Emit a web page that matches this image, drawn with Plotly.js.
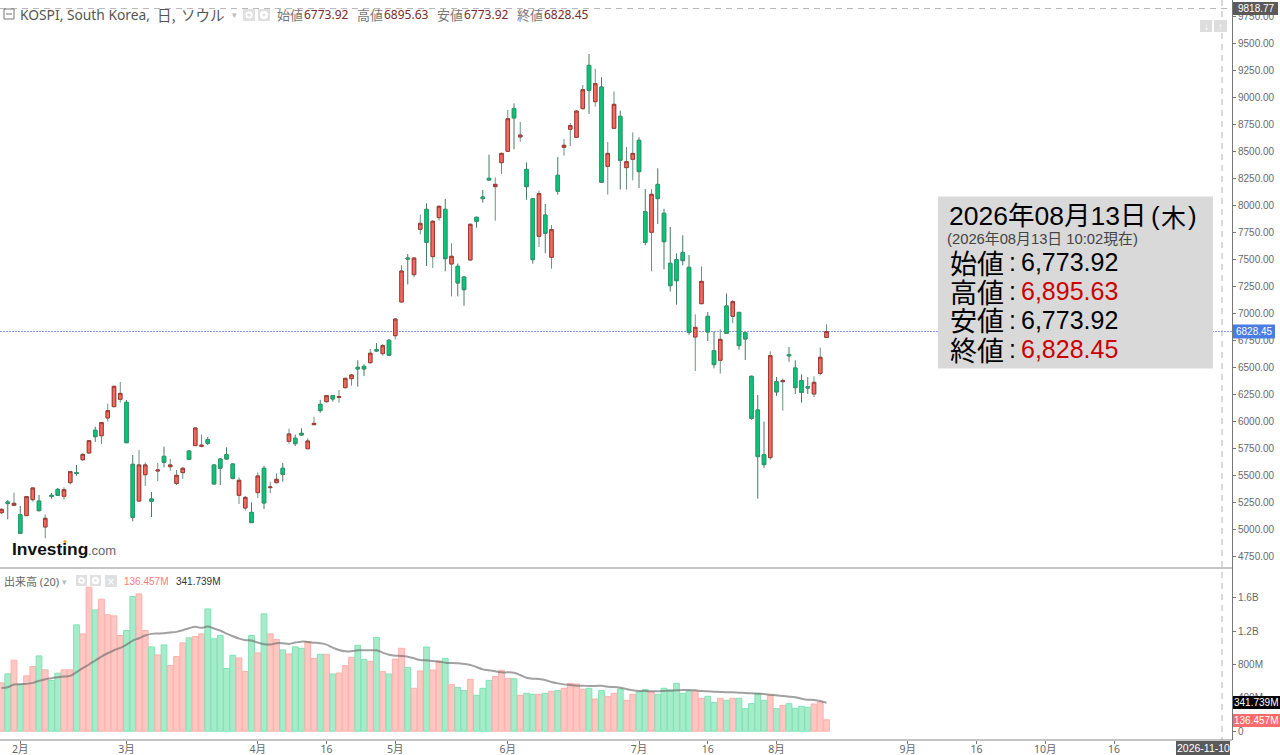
<!DOCTYPE html>
<html><head><meta charset="utf-8">
<script src="https://cdn.plot.ly/plotly-3.0.1.min.js"></script>
<style>html,body{margin:0;padding:0;background:#fff}#c{width:1280px;height:755px}</style>
</head><body><div id="c"></div>
<script>
const opens=[5151,5250,5219,5133,5124,5272,5259,5019,5312,5367,5303,5429,5522,5642,5704,5914,5864,6028,6133,6201,6173,5599,5259,5503,5278,5537,5673,5577,5423,5522,5722,5772,5766,5827,5593,5648,5688,5602,5312,5195,5154,5337,5562,5383,5429,5562,5812,5840,5886,5744,5966,6154,6179,6235,6219,6309,6392,6497,6506,6540,6661,6624,6747,6790,7102,7509,7355,7775,7960,7522,7883,7960,7454,7432,7333,7491,7886,8074,8247,8170,8392,8497,8892,8630,8330,8059,7710,7907,7516,8275,8534,8701,8627,8892,9293,8957,9093,8358,8710,8821,8346,8423,8599,7938,7747,8191,7923,7460,7494,7559,7423,6778,7086,6969,6651,6562,7065,6969,7006,6818,6414,6102,5688,5661,6364,6364,6614,6491,6374,6318,6250,6441,6773.92];
const highs=[5191,5269,5337,5213,5306,5386,5315,5136,5333,5380,5386,5537,5593,5701,5824,5948,5991,6161,6327,6361,6195,5685,5732,5617,5343,5611,5762,5648,5546,5574,5732,5941,5874,5852,5596,5654,5756,5608,5479,5306,5247,5525,5586,5438,5515,5611,5929,5874,5932,5840,6040,6195,6241,6241,6287,6401,6435,6562,6525,6667,6722,6713,6759,6951,7441,7546,7515,7910,8015,7861,7997,8056,7645,7457,7340,7830,7892,8139,8466,8256,8485,8880,8941,8769,8395,8065,8133,8009,7815,8444,8611,8759,8877,9111,9398,9262,9182,8583,9052,8873,8537,8673,8627,8148,8148,8340,7966,7796,7552,7719,7537,6988,7432,7009,6830,6849,7179,7120,7009,6824,6420,6241,5994,6645,6407,6395,6685,6562,6432,6407,6414,6679,6895.63];
const lows=[5139,5090,5213,4954,5120,5253,5161,4914,5281,5306,5275,5414,5494,5630,5698,5806,5787,5994,6127,6170,5796,5071,5253,5398,5111,5444,5571,5540,5407,5463,5639,5769,5756,5778,5414,5407,5642,5460,5232,5170,5056,5287,5185,5333,5423,5438,5790,5769,5864,5738,5960,6077,6170,6179,6170,6302,6327,6318,6417,6534,6642,6605,6605,6756,7099,7265,7330,7728,7435,7417,7855,7386,7154,7154,7068,7488,7790,8022,8228,7855,8287,8494,8516,8586,8049,7457,7611,7553,7411,8096,8457,8546,8620,8886,8843,8911,8207,8096,8707,8142,8142,8228,8157,7627,7386,7824,7404,7198,7077,7441,6799,6463,7083,6741,6488,6438,6809,6907,6661,6565,6012,5281,5565,5642,6232,6096,6549,6250,6170,6250,6222,6423,6773.92];
const closes=[5182,5235,5238,4960,5300,5380,5170,5099,5303,5312,5364,5531,5515,5691,5818,5855,5985,6096,6321,6256,5799,5108,5593,5593,5256,5546,5617,5593,5497,5562,5645,5935,5775,5793,5417,5562,5648,5469,5451,5293,5059,5491,5241,5389,5460,5506,5880,5790,5870,5815,5978,6096,6235,6204,6225,6395,6426,6482,6482,6627,6648,6698,6608,6944,7389,7500,7509,7830,7654,7849,7988,7503,7525,7278,7216,7821,7849,8059,8231,8191,8478,8799,8806,8648,8170,7494,8105,7738,7772,8127,8553,8735,8870,9068,9062,9124,8210,8478,8932,8414,8401,8478,8309,7654,8099,8059,7660,7253,7299,7485,6821,6867,7293,6824,6522,6756,6812,7105,6698,6759,6025,5670,5596,6605,6269,6374,6605,6309,6265,6306,6358,6590,6828.45];
const volumes=[579,687,851,559,663,775,902,735,607,695,735,735,1274,1166,1725,1453,1581,1394,1382,1146,1206,1613,1645,1206,1010,914,1034,787,894,1058,1118,1134,1166,1465,1106,1146,751,910,878,715,1146,938,1406,1166,1098,974,926,1010,993,1073,873,921,921,685,697,785,885,1029,861,837,1124,713,685,865,993,765,514,721,1009,733,841,873,557,525,486,621,430,514,609,657,729,633,629,430,454,442,442,454,478,486,514,573,565,502,514,386,486,414,454,506,370,442,470,498,470,442,514,494,573,454,482,482,394,418,342,394,370,394,394,270,330,454,370,430,270,310,330,274,298,286,326,350,136.457];
const volumeMA=[519,527,559,563,567,579,603,623,635,647,655,663,707,755,799,847,894,934,970,998,1038,1086,1114,1146,1166,1170,1174,1182,1190,1210,1234,1250,1238,1254,1230,1206,1170,1138,1110,1090,1086,1062,1042,1038,1054,1054,1046,1062,1073,1069,1061,1053,1037,1001,973,957,957,969,969,969,969,941,917,905,901,893,873,853,849,841,833,821,817,813,805,793,769,741,729,717,705,705,701,673,641,629,625,613,589,573,561,553,545,545,541,541,545,533,529,521,505,490,482,482,478,478,482,486,490,494,494,490,482,478,474,470,466,466,462,458,454,450,446,438,430,422,414,406,390,378,374,362,341.739];
const timeTickPositions=[3,20,41,52,63,81,102,113,124,145,156,167,178];
const timeTickLabels=['2月','3月','4月','16','5月','6月','7月','16','8月','9月','16','10月','16'];
const volumeTickValues=[0,400,800,1200,1600];
const volumeTickLabels=['0','400M','800M','1.2B','1.6B'];
const lastClose=6828.45, topPrice=9818.77, lastVolume=136.457, lastMA=341.739;

const RED='#f6685e',GREEN='#00c878',idx=opens.map((_,i)=>i);
const W=1280,H=755;
const px=v=>v/W, py=v=>1-v/H;
const SANS='"Liberation Sans","Noto Sans CJK JP",sans-serif';
const UI='"Noto Sans","Noto Sans CJK JP",sans-serif';
const CJK='"Noto Sans CJK JP",sans-serif';

const traces=[
 {type:'bar',x:idx,y:volumes,xaxis:'x2',yaxis:'y2',hoverinfo:'skip',
  marker:{color:idx.map(i=>closes[i]>=opens[i]?'#ffc7c3':'#a7ecca'),
          line:{color:idx.map(i=>closes[i]>=opens[i]?'#ffb0aa':'#7fe3b5'),width:1}}},
 {type:'scatter',mode:'lines',x:idx,y:volumeMA,xaxis:'x2',yaxis:'y2',hoverinfo:'skip',
  line:{color:'rgba(110,110,110,0.65)',width:2,shape:'spline'}},
 {type:'candlestick',x:idx,open:opens,high:highs,low:lows,close:closes,xaxis:'x',yaxis:'y',hoverinfo:'skip',
  whiskerwidth:0,increasing:{line:{color:'#6a9480',width:1},fillcolor:RED},decreasing:{line:{color:'#4a7a63',width:1},fillcolor:GREEN}},
 {type:'candlestick',x:idx,open:opens,close:closes,high:idx.map(i=>Math.max(opens[i],closes[i])),low:idx.map(i=>Math.min(opens[i],closes[i])),xaxis:'x',yaxis:'y',hoverinfo:'skip',
  whiskerwidth:0,increasing:{line:{color:'#a23a34',width:1},fillcolor:RED},decreasing:{line:{color:'#2e9a6e',width:1},fillcolor:GREEN}}
];

function rect(x0,y0,x1,y1,fill,layer){return {type:'rect',xref:'paper',yref:'paper',x0:px(x0),x1:px(x1),y0:py(y0),y1:py(y1),fillcolor:fill,line:{width:0},layer:layer||'above'};}
function hline(x0,x1,yy,c,w,dash){return {type:'line',xref:'paper',yref:'paper',x0:px(x0),x1:px(x1),y0:py(yy),y1:py(yy),line:{color:c,width:w,dash:dash||'solid'},layer:'above'};}
function vline(xx,y0,y1,c,w,dash){return {type:'line',xref:'paper',yref:'paper',x0:px(xx),x1:px(xx),y0:py(y0),y1:py(y1),line:{color:c,width:w,dash:dash||'solid'},layer:'above'};}
function circ(cx,cy,r,fill){return {type:'circle',xref:'paper',yref:'paper',x0:px(cx-r),x1:px(cx+r),y0:py(cy-r),y1:py(cy+r),fillcolor:fill,line:{width:0},layer:'above'};}
function txt(x,y,t,size,color,family,anchor,extra){return Object.assign({xref:'paper',yref:'paper',x:px(x),y:py(y),text:t,showarrow:false,xanchor:anchor||'left',yanchor:'middle',font:{size:size,color:color,family:family||SANS},borderpad:0,borderwidth:0},extra||{});}

function icon(x,y,s,kind){
  const out=[rect(x,y,x+s,y+s,'#e0e0e0')];
  if(kind==='eye'){out.push(circ(x+s/2,y+s/2,s*0.3,'#ffffff'),circ(x+s/2,y+s/2,s*0.14,'#e0e0e0'));}
  if(kind==='gear'){out.push(circ(x+s/2,y+s/2,s*0.34,'#ffffff'),circ(x+s/2,y+s/2,s*0.12,'#e0e0e0'));}
  return out;
}
const shapes=[
 {type:'line',xref:'paper',yref:'y',x0:0,x1:px(1232),y0:lastClose,y1:lastClose,line:{color:'#8398ee',width:1,dash:'2px,1px'},layer:'below'},
 {type:'line',xref:'paper',yref:'y',x0:0,x1:px(1232),y0:topPrice,y1:topPrice,line:{color:'#b5b5b5',width:1,dash:'6px,5px'},layer:'above'},
 vline(1222,0,740,'#b5b5b5',1,'6px,5px'),
 hline(0,1232,568,'#8a8a8a',1.2),
 hline(0,1232,740,'#8a8a8a',1.2),
 rect(938,196.5,1213,368.5,'#d9d9d9'),
 rect(1233,2,1278,15,'#5a5a5a'),
 rect(1233,324.5,1275,338.5,'#4b7be5'),
 rect(1233,696,1280,709,'#000000'),
 rect(1233,714,1280,727,'#ff6b6b'),
 rect(1176,741,1230,755,'#5a5a5a'),
 rect(1200,20,1212,32,'#dddddd'),
 rect(1214,20,1227,32,'#dddddd'),
 {type:'rect',xref:'paper',yref:'paper',x0:px(4),x1:px(14),y0:py(9),y1:py(19),fillcolor:'rgba(0,0,0,0)',line:{color:'#777',width:1},layer:'above'},
 hline(6,12,14,'#777',1),
 circ(65,541.5,1.6,'#f5a623'),
 ...icon(243,9,12,'eye'),...icon(258,9,12,'gear'),
 ...icon(76,575,11,'eye'),...icon(90,575,11,'gear'),...icon(105,575,12,'x')
];

const annotations=[
 txt(20,14,'KOSPI, South Korea,',13.8,'#555555',UI),
 txt(157,14,'日,',14.5,'#555555',CJK),
 txt(181,14,'ソウル',14.5,'#555555',CJK),
 txt(232,14,'▾',9,'#bbbbbb',UI),
 txt(277,14,'始値',13,'#777777',CJK),txt(304,14,'6773.92',12,'#7a2a2a',UI),
 txt(357,14,'高値',13,'#777777',CJK),txt(384,14,'6895.63',12,'#7a2a2a',UI),
 txt(437,14,'安値',13,'#777777',CJK),txt(464,14,'6773.92',12,'#7a2a2a',UI),
 txt(517,14,'終値',13,'#777777',CJK),txt(544,14,'6828.45',12,'#7a2a2a',UI),
 txt(12,549,'<b>Investing</b>',17.4,'#111111',SANS),
 txt(88,550,'.com',13,'#666666',SANS),
 txt(4,581,'出来高 (20)',11,'#666666',UI),
 txt(62,581,'▾',9,'#bbbbbb',UI),
 txt(124,581,'136.457M',10,'#ff7b7b',SANS),
 txt(176,581,'341.739M',10,'#333333',SANS),
 txt(1256,8.5,'9818.77',10,'#ffffff',SANS,'center'),
 txt(1254,331.5,lastClose.toFixed(2),10,'#ffffff',SANS,'center'),
 txt(1256,702.5,lastMA.toFixed(3)+'M',10,'#ffffff',SANS,'center'),
 txt(1256,720.5,lastVolume.toFixed(3)+'M',10,'#ffffff',SANS,'center'),
 txt(1203,748,'2026-11-10',10.5,'#ffffff',SANS,'center'),
 txt(1206,26,'<b>↓</b>',10,'#ffffff',SANS,'center'),
 txt(1220.5,26,'<b>↑</b>',10,'#ffffff',SANS,'center'),
 txt(111,581,'×',13,'#ffffff',SANS,'center'),
 txt(949,216,'2026年08月13日',26.5,'#000000',SANS),
 txt(1151,216,'(',26,'#000000',SANS),
 txt(1173,216,'木',25,'#000000',CJK,'center'),
 txt(1197,216,')',26,'#000000',SANS,'right'),
 txt(947,239,'(2026年08月13日 10:02現在)',14.8,'#444444',SANS),
 txt(950,262,'始値',27,'#000000',CJK),
 txt(950,291,'高値',27,'#000000',CJK),
 txt(950,320,'安値',27,'#000000',CJK),
 txt(950,349,'終値',27,'#000000',CJK),
 txt(1012,262,':',25,'#000000',SANS,'center'),
 txt(1012,291,':',25,'#000000',SANS,'center'),
 txt(1012,320,':',25,'#000000',SANS,'center'),
 txt(1012,349,':',25,'#000000',SANS,'center'),
 txt(1021,262,'6,773.92',25,'#000000',SANS),
 txt(1021,291,'6,895.63',25,'#cc0000',SANS),
 txt(1021,320,'6,773.92',25,'#000000',SANS),
 txt(1021,349,'6,828.45',25,'#cc0000',SANS)
];

const priceTop=9500+43/0.108, priceBottom=9500-(568-43)/0.108;
const volTop=(731.2-568)*11.98, volBottom=(731.2-740)*11.98;
const xr=[-1.5/6.25,(1232-1.5)/6.25];
const layout={
 width:W,height:H,margin:{l:0,r:0,t:0,b:0,pad:0},paper_bgcolor:'#fff',plot_bgcolor:'#fff',showlegend:false,
 boxgap:0.2,bargap:0.08,dragmode:false,hovermode:false,
 font:{family:SANS,color:'#666'},
 xaxis:{domain:[0,px(1232)],range:xr,anchor:'y',showgrid:false,zeroline:false,showticklabels:false,ticks:'',showline:false,rangeslider:{visible:false},fixedrange:true},
 yaxis:{domain:[py(568),1],range:[priceBottom,priceTop],anchor:'x',side:'right',showgrid:false,zeroline:false,showline:true,linecolor:'#777',linewidth:1,
        tick0:4750,dtick:250,tickformat:'.2f',ticks:'outside',ticklen:3,tickcolor:'#777',tickfont:{size:10,color:'#6a6a6a',family:SANS},fixedrange:true},
 xaxis2:{domain:[0,px(1232)],range:xr,anchor:'y2',showgrid:false,zeroline:false,showline:false,tickmode:'array',tickvals:timeTickPositions,ticktext:timeTickLabels,
        ticks:'outside',ticklen:3,tickcolor:'#777',ticklabelstandoff:-4,tickfont:{size:10.5,color:'#666',family:UI},fixedrange:true,rangeslider:{visible:false}},
 yaxis2:{domain:[py(740),py(568)],range:[volBottom,volTop],anchor:'x2',side:'right',showgrid:false,zeroline:false,showline:true,linecolor:'#777',linewidth:1,
        tickmode:'array',tickvals:volumeTickValues,ticktext:volumeTickLabels,ticks:'outside',ticklen:3,tickcolor:'#777',tickfont:{size:10,color:'#6a6a6a',family:SANS},fixedrange:true},
 shapes:shapes,annotations:annotations
};
Plotly.newPlot('c',traces,layout,{displayModeBar:false,staticPlot:true});
</script></body></html>
